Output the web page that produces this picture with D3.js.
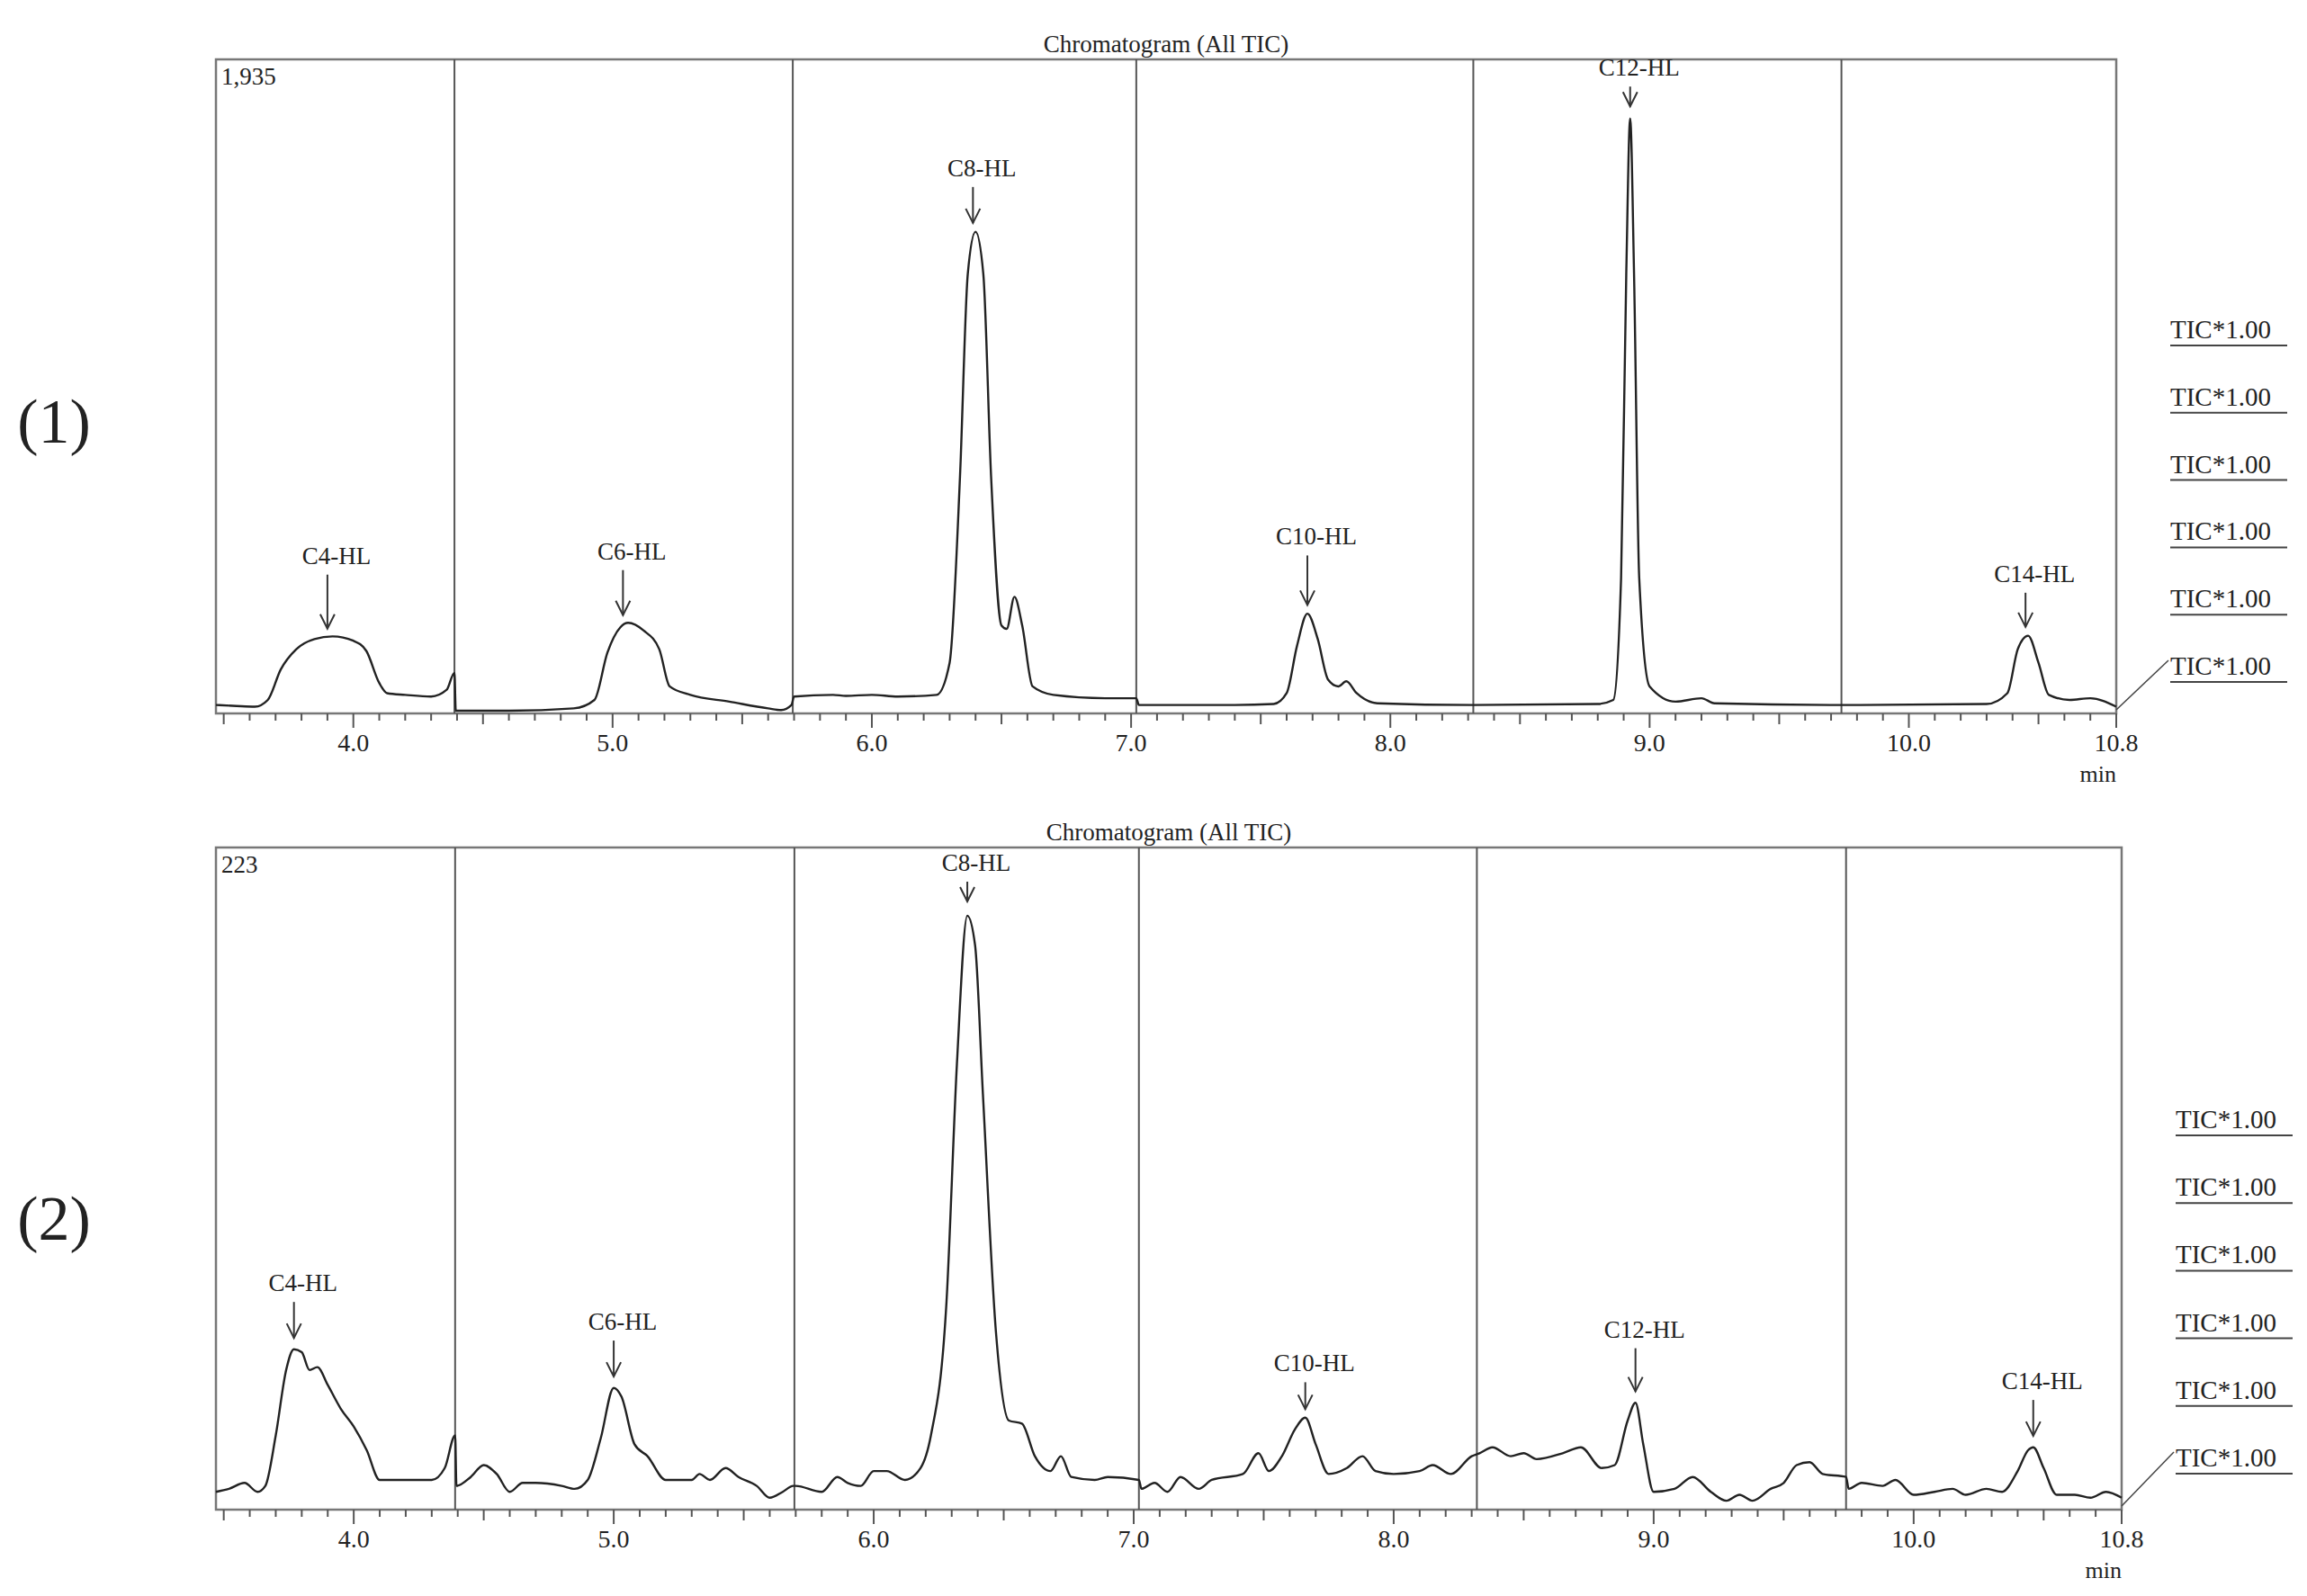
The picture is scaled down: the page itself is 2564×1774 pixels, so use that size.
<!DOCTYPE html>
<html><head><meta charset="utf-8">
<script src="https://cdn.jsdelivr.net/npm/d3@7"></script>
<style>body{margin:0;background:#fff}text{font-family:"Liberation Serif",serif;fill:#222}</style>
</head><body>
<script>
// section boundaries (min)
var sections1 = [4.39, 5.695, 7.02, 8.32, 9.74];
var sections2 = [4.39, 5.695, 7.02, 8.32, 9.74];
var ticks = [4.0, 5.0, 6.0, 7.0, 8.0, 9.0, 10.0, 10.8];

// trace 1 [time, intensity]
var trace1 = [[3.47,25],[3.55,22],[3.62,20],[3.67,40],[3.72,130],[3.78,190],[3.85,220],[3.92,228],[4.0,215],[4.05,185],[4.1,90],[4.13,60],[4.2,55],[4.3,50],[4.36,70],[4.39,120],
 [4.395,8],[4.6,8],[4.85,15],[4.93,40],[4.98,180],[5.03,255],[5.06,268],[5.12,245],[5.18,190],[5.22,80],[5.3,55],[5.45,35],[5.6,15],[5.65,10],[5.69,25],
 [5.7,50],[5.85,55],[5.9,52],[6.0,55],[6.1,50],[6.25,55],[6.3,150],[6.34,700],[6.37,1300],[6.4,1425],[6.43,1300],[6.46,700],[6.5,260],[6.52,250],[6.55,345],[6.58,260],[6.62,80],[6.7,55],[6.9,45],[7.02,45],
 [7.03,25],[7.4,25],[7.55,28],[7.6,60],[7.64,200],[7.68,295],[7.72,220],[7.76,100],[7.8,80],[7.83,95],[7.87,60],[7.95,30],[8.32,25],
 [8.8,28],[8.86,40],[8.89,400],[8.91,1300],[8.925,1760],[8.94,1300],[8.96,400],[9.0,80],[9.1,35],[9.2,45],[9.25,30],[9.74,25],
 [10.3,28],[10.38,60],[10.42,190],[10.46,230],[10.5,150],[10.54,55],[10.62,40],[10.7,45],[10.8,20]];

var trace2 = [[3.47,6],[3.52,7],[3.58,9],[3.63,6],[3.66,8],[3.7,25],[3.74,47],[3.77,54],[3.8,53],[3.83,47],[3.86,48],[3.9,42],[3.95,34],[4.0,28],[4.05,20],[4.1,10],[4.2,10],[4.3,10],[4.35,14],[4.39,25],
 [4.395,8],[4.45,11],[4.5,15],[4.55,12],[4.6,6],[4.65,9],[4.7,9],[4.8,8],[4.85,7],[4.9,10],[4.95,24],[5.0,41],[5.03,38],[5.08,22],[5.13,18],[5.2,10],[5.3,10],[5.33,12],[5.37,10],[5.43,14],[5.48,11],[5.55,8],[5.6,4],[5.65,6],[5.69,8],
 [5.7,8],[5.8,6],[5.86,11],[5.9,9],[5.95,8],[6.0,13],[6.05,13],[6.12,10],[6.18,14],[6.22,25],[6.28,70],[6.32,150],[6.36,200],[6.39,190],[6.42,140],[6.47,60],[6.52,30],[6.57,29],[6.62,18],[6.68,13],[6.72,18],[6.76,11],[6.85,10],[6.9,11],[7.02,10],
 [7.03,7],[7.08,9],[7.13,6],[7.18,11],[7.25,7],[7.3,10],[7.42,12],[7.48,19],[7.52,13],[7.57,18],[7.62,27],[7.66,31],[7.7,22],[7.75,12],[7.82,14],[7.88,18],[7.93,13],[8.0,12],[8.1,13],[8.15,15],[8.22,12],[8.3,18],[8.33,19],
 [8.38,21],[8.45,18],[8.5,19],[8.55,17],[8.65,19],[8.72,21],[8.8,14],[8.85,15],[8.9,30],[8.93,36],[8.96,22],[9.0,6],[9.08,7],[9.15,11],[9.22,6],[9.28,3],[9.33,5],[9.38,3],[9.45,7],[9.5,9],[9.55,15],[9.6,16],[9.65,12],[9.74,11],
 [9.75,7],[9.8,9],[9.88,8],[9.93,10],[10.0,5],[10.08,6],[10.15,7],[10.2,5],[10.28,7],[10.34,6],[10.4,13],[10.44,20],[10.46,21],[10.5,14],[10.55,5],[10.62,5],[10.68,4],[10.74,6],[10.8,4]];

// peak annotations: name, time, peak value, arrow length (px)
var peaks1 = [["C4-HL",3.9,235,60],["C6-HL",5.04,275,50],["C8-HL",6.39,1435,40],["C10-HL",7.68,305,55],["C12-HL",8.925,1780,22],["C14-HL",10.45,240,38]];
var peaks2 = [["C4-HL",3.77,56,40],["C6-HL",5.0,43,40],["C8-HL",6.36,203,22],["C10-HL",7.66,32,30],["C12-HL",8.93,38,48],["C14-HL",10.46,23,40]];
var ymax1 = 1935, ymax2 = 223;
var ticLabels = ["TIC*1.00","TIC*1.00","TIC*1.00","TIC*1.00","TIC*1.00","TIC*1.00"];

var W = 2564, H = 1774;
var svg = d3.select("body").append("svg").attr("width", W).attr("height", H);

function panel(o) {
  var x = d3.scaleLinear().domain([3.47, 10.8]).range([o.left, o.right]);
  var y = d3.scaleLinear().domain([0, o.ymax]).range([o.bottom, o.top]);
  var g = svg.append("g");

  g.append("text").attr("x", (o.left + o.right) / 2).attr("y", o.top - 8)
    .attr("text-anchor", "middle").attr("font-size", 27).text("Chromatogram (All TIC)");
  g.append("rect").attr("x", o.left).attr("y", o.top).attr("width", o.right - o.left)
    .attr("height", o.bottom - o.top).attr("fill", "none").attr("stroke", "#777").attr("stroke-width", 2.5);
  g.append("text").attr("x", o.left + 6).attr("y", o.top + 28).attr("font-size", 27).text(o.ymax.toLocaleString("en-US"));
  g.selectAll(".sec").data(o.sections).enter().append("line")
    .attr("x1", d => x(d)).attr("x2", d => x(d)).attr("y1", o.top).attr("y2", o.bottom)
    .attr("stroke", "#555").attr("stroke-width", 2);

  // minor / major ticks
  var minor = d3.range(35, 109).map(d => d / 10);
  g.selectAll(".mt").data(minor).enter().append("line")
    .attr("x1", d => x(d)).attr("x2", d => x(d)).attr("y1", o.bottom)
    .attr("y2", d => o.bottom + (Math.abs(d - Math.round(d)) < 1e-6 || Math.abs(d - 10.8) < 1e-6 ? 16 : (Math.abs(d * 2 - Math.round(d * 2)) < 1e-6 ? 12 : 8)))
    .attr("stroke", "#555").attr("stroke-width", 2);
  g.selectAll(".tl").data(ticks).enter().append("text")
    .attr("x", d => x(d)).attr("y", o.bottom + 42).attr("text-anchor", "middle")
    .attr("font-size", 28).text(d => d.toFixed(1));
  g.append("text").attr("x", o.right).attr("y", o.bottom + 76).attr("text-anchor", "end").attr("font-size", 26).text("min");

  var line = d3.line().x(d => x(d[0])).y(d => y(d[1])).curve(d3.curveMonotoneX);
  g.append("path").datum(o.trace).attr("d", line).attr("fill", "none").attr("stroke", "#222").attr("stroke-width", 2.4);

  // annotations
  o.peaks.forEach(function (p) {
    var px = x(p[1]), tip = y(p[2]) - 6, top = tip - p[3];
    g.append("line").attr("x1", px).attr("x2", px).attr("y1", top).attr("y2", tip).attr("stroke", "#333").attr("stroke-width", 2);
    g.append("path").attr("d", "M" + (px - 8) + "," + (tip - 16) + "L" + px + "," + tip + "L" + (px + 8) + "," + (tip - 16))
      .attr("fill", "none").attr("stroke", "#333").attr("stroke-width", 2);
    g.append("text").attr("x", px + 10).attr("y", top - 12).attr("text-anchor", "middle").attr("font-size", 27).text(p[0]);
  });

  // TIC labels
  var ty = d3.scaleLinear().domain([0, ticLabels.length - 1]).range([o.tic0, o.tic1]);
  ticLabels.forEach(function (t, i) {
    var yy = ty(i);
    g.append("text").attr("x", o.right + 60).attr("y", yy).attr("font-size", 29).text(t);
    g.append("line").attr("x1", o.right + 60).attr("x2", o.right + 190).attr("y1", yy + 8).attr("y2", yy + 8)
      .attr("stroke", "#444").attr("stroke-width", 2);
  });
  g.append("line").attr("x1", o.right).attr("y1", o.bottom - 4).attr("x2", o.right + 58).attr("y2", o.tic1 - 16)
    .attr("stroke", "#444").attr("stroke-width", 1.5);

  svg.append("text").attr("x", 60).attr("y", o.lab).attr("text-anchor", "middle").attr("font-size", 70)
    .style("font-family", "'Liberation Serif',serif").text(o.name);
}

panel({left: 240, right: 2352, top: 66, bottom: 793, ymax: ymax1, trace: trace1, sections: sections1, peaks: peaks1, tic0: 376, tic1: 750, lab: 492, name: "(1)"});
panel({left: 240, right: 2358, top: 942, bottom: 1678, ymax: ymax2, trace: trace2, sections: sections2, peaks: peaks2, tic0: 1254, tic1: 1630, lab: 1378, name: "(2)"});
</script>
</body></html>
